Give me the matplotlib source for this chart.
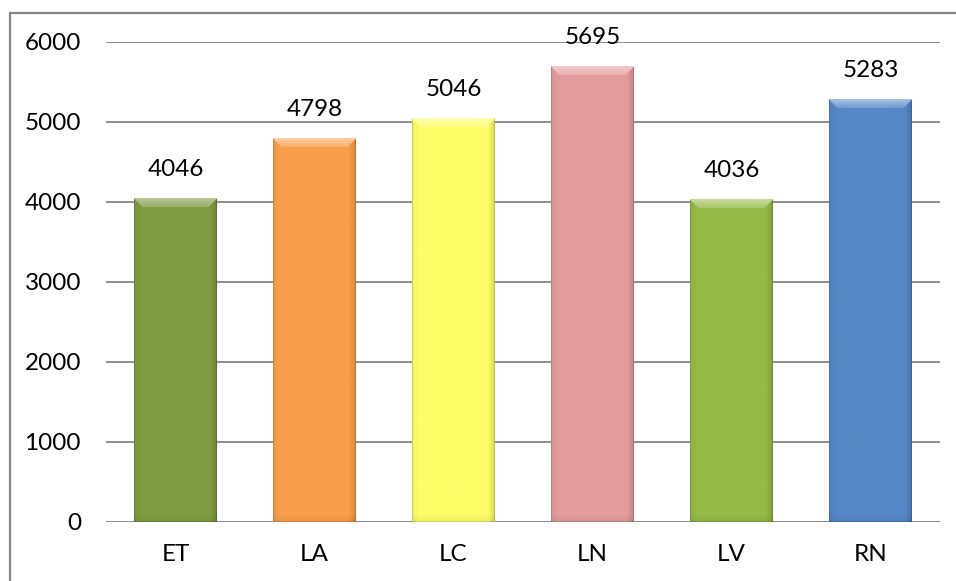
import numpy as np
import matplotlib
matplotlib.use("Agg")
import matplotlib.pyplot as plt
from matplotlib.colors import to_rgb
from matplotlib.patches import Rectangle

categories = ["ET", "LA", "LC", "LN", "LV", "RN"]
values = [4046, 4798, 5046, 5695, 4036, 5283]
bar_colors = ["#7F9C42", "#F99F4C", "#FDFD68", "#E39C9C", "#94BA47", "#5587C6"]
yticks = [0, 1000, 2000, 3000, 4000, 5000, 6000]

plt.rcParams['font.family'] = ['Lato', 'DejaVu Sans']

W, H = 956, 581
fig = plt.figure(figsize=(W / 100, H / 100), dpi=100)
ax_left, ax_right, ax_top, ax_bottom = 106, 940, 42, 522
ax = fig.add_axes([ax_left / W, 1 - ax_bottom / H, (ax_right - ax_left) / W, (ax_bottom - ax_top) / H])

ax.set_xlim(-0.5, len(categories) - 0.5)
ax.set_ylim(0, 6000)
x = np.arange(len(categories))
bars = ax.bar(x, values, width=0.59, color=bar_colors, zorder=2, linewidth=0)

# pixel scales
px_per_x = (ax_right - ax_left) / len(categories)
px_per_y = (ax_bottom - ax_top) / 6000.0


def bevel_image(color, wpx, hpx):
    nx, ny = max(int(wpx), 2), max(int(hpx), 2)
    base = np.array(to_rgb(color))
    u = (np.arange(nx) + 0.5)[None, :] * np.ones((ny, 1))
    v = (np.arange(ny) + 0.5)[:, None] * np.ones((1, nx))
    dark = np.zeros((ny, nx))
    light = np.zeros((ny, nx))
    b = 9.0
    # soft side edges
    dl = np.clip(1 - u / 7.0, 0, 1)
    dr = np.clip(1 - (nx - u) / 7.0, 0, 1)
    dark += 0.06 * dl + 0.15 * dr
    # bottom edge
    db = np.clip(1 - (ny - v) / 7.0, 0, 1)
    dark += 0.06 * db
    # thin outline
    edge = (u < 1.2) | (u > nx - 1.2) | (v > ny - 1.2)
    dark[edge] += 0.12
    # top bevel trapezoid (lighter)
    top = (v < b) & (u >= v) & (u <= nx - v)
    light[top] = 0.30 * (1 - v[top] / b) + 0.18
    dark[top] = 0
    img = base[None, None, :] * (1 - dark[:, :, None])
    img = img + light[:, :, None] * (1 - img)
    return np.clip(img, 0, 1)


for rect, col in zip(bars, bar_colors):
    x0, w, h = rect.get_x(), rect.get_width(), rect.get_height()
    img = bevel_image(col, w * px_per_x, h * px_per_y)
    im = ax.imshow(img, extent=[x0, x0 + w, 0, h], aspect='auto', zorder=3, interpolation='bilinear')
    im.set_clip_path(rect)

ax.set_xlim(-0.5, len(categories) - 0.5)
ax.set_ylim(0, 6000)

ax.set_yticks(yticks)
ax.set_yticklabels([str(t) for t in yticks])
ax.set_xticks(x)
ax.set_xticklabels(categories)
ax.tick_params(axis='both', length=0, labelsize=17.5, colors='black')
ax.tick_params(axis='y', pad=18)
ax.tick_params(axis='x', pad=16)
ax.yaxis.grid(True, color='#8C8C8C', linewidth=1.4, zorder=0)
ax.set_axisbelow(True)
for s in ax.spines.values():
    s.set_visible(False)

for xi, v in zip(x, values):
    ax.annotate(str(v), (xi, v), xytext=(0, 13), textcoords='offset points',
                ha='center', va='bottom', fontsize=17.5, color='black', zorder=5)

# outer chart border
fig.patches.append(Rectangle((9.5 / W, -0.1), 1.2, 1 - 13 / H + 0.1, transform=fig.transFigure,
                             fill=False, edgecolor='#868686', linewidth=1.6))

fig.savefig("out.png", dpi=100, facecolor='white')
